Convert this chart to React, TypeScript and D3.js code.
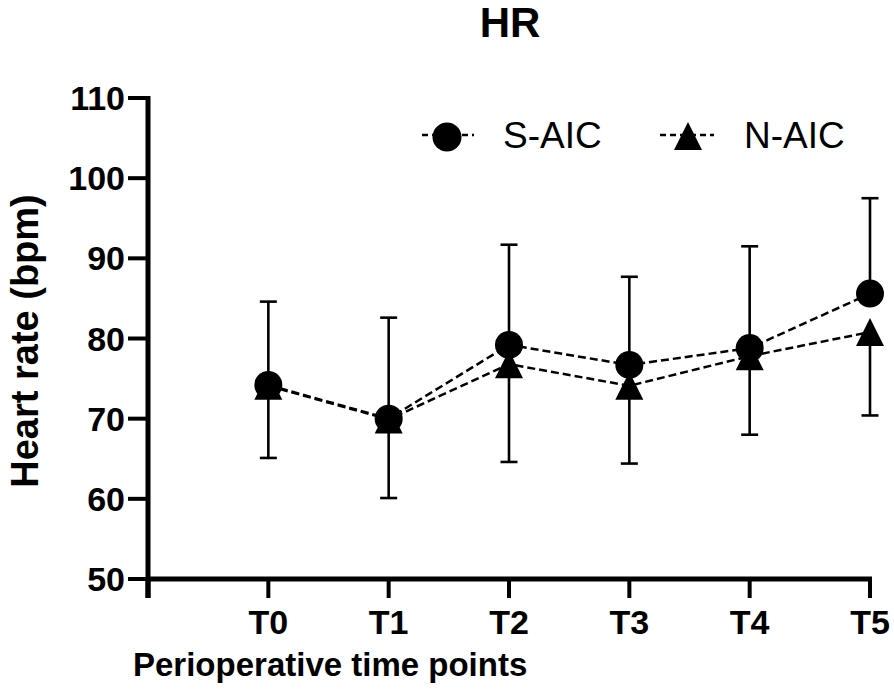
import React from "react";
import * as d3 from "d3";

const categories = ["T0", "T1", "T2", "T3", "T4", "T5"];
const sAic = [74.2, 70.0, 79.2, 76.7, 78.8, 85.6];
const sAicSD = [10.4, 12.6, 12.5, 11.0, 12.7, 11.9];
const nAic = [74.1, 69.9, 76.8, 74.1, 77.8, 80.8];
const nAicSD = [9.0, 9.8, 12.2, 9.7, 9.8, 10.4];
const yTicks = [50, 60, 70, 80, 90, 100, 110];
const seriesNames = ["S-AIC", "N-AIC"];

const W = 894;
const H = 691;

export default function App() {
  const x = d3.scaleLinear().domain([-1, categories.length - 1]).range([148, 870]);
  const y = d3.scaleLinear().domain([50, 110]).range([579, 98]);
  const line = d3
    .line<number>()
    .x((_, i) => x(i))
    .y((d) => y(d));
  const font = "'Liberation Sans', Arial, Helvetica, sans-serif";
  const xTickIdx = d3.range(-1, categories.length);
  const tri = (cx: number, cy: number, s = 14) =>
    `M${cx},${cy - s}L${cx + s},${cy + s}L${cx - s},${cy + s}Z`;

  return (
    <svg
      width={W}
      height={H}
      style={{ position: "absolute", left: 0, top: 0, background: "#fff" }}
      fontFamily={font}
    >
      <rect width={W} height={H} fill="#fff" />
      {/* title */}
      <text x={510} y={37} textAnchor="middle" fontSize={42} fontWeight="bold">
        HR
      </text>

      {/* y axis */}
      <line x1={148} x2={148} y1={y(110) - 2} y2={598} stroke="#000" strokeWidth={5} />
      {yTicks.map((t) => (
        <g key={t}>
          <line x1={128} x2={148} y1={y(t)} y2={y(t)} stroke="#000" strokeWidth={4} />
          <text
            x={125}
            y={y(t) + 12}
            textAnchor="end"
            fontSize={34}
            fontWeight="bold"
          >
            {t}
          </text>
        </g>
      ))}

      {/* x axis */}
      <line x1={146} x2={872} y1={579} y2={579} stroke="#000" strokeWidth={5} />
      {xTickIdx.map((i) => (
        <line key={i} x1={x(i)} x2={x(i)} y1={579} y2={598} stroke="#000" strokeWidth={i === -1 ? 5 : 4} />
      ))}
      {categories.map((c, i) => (
        <text key={c} x={x(i)} y={634} textAnchor="middle" fontSize={34} fontWeight="bold">
          {c}
        </text>
      ))}

      {/* axis titles */}
      <text x={133} y={676} fontSize={33} fontWeight="bold">
        Perioperative time points
      </text>
      <text
        transform={`translate(38,341) rotate(-90)`}
        textAnchor="middle"
        fontSize={38}
        fontWeight="bold"
      >
        Heart rate (bpm)
      </text>

      {/* dashed lines */}
      <path d={line(sAic) || ""} fill="none" stroke="#000" strokeWidth={2.5} strokeDasharray="8,4" />
      <path d={line(nAic) || ""} fill="none" stroke="#000" strokeWidth={2.5} strokeDasharray="8,4" />

      {/* error bars: S-AIC upward, N-AIC downward */}
      {categories.map((c, i) => (
        <g key={"eb" + c} stroke="#000" strokeWidth={2.6}>
          <line x1={x(i)} x2={x(i)} y1={y(sAic[i])} y2={y(sAic[i] + sAicSD[i])} />
          <line x1={x(i) - 8.5} x2={x(i) + 8.5} y1={y(sAic[i] + sAicSD[i])} y2={y(sAic[i] + sAicSD[i])} />
          <line x1={x(i)} x2={x(i)} y1={y(nAic[i])} y2={y(nAic[i] - nAicSD[i])} />
          <line x1={x(i) - 8.5} x2={x(i) + 8.5} y1={y(nAic[i] - nAicSD[i])} y2={y(nAic[i] - nAicSD[i])} />
        </g>
      ))}

      {/* markers */}
      {nAic.map((v, i) => (
        <path key={"t" + i} d={tri(x(i), y(v))} fill="#000" />
      ))}
      {sAic.map((v, i) => (
        <circle key={"c" + i} cx={x(i)} cy={y(v)} r={14} fill="#000" />
      ))}

      {/* legend */}
      <g>
        <line x1={422} x2={474} y1={135} y2={135} stroke="#000" strokeWidth={2.5} strokeDasharray="6,4" />
        <circle cx={447} cy={137} r={14.5} fill="#000" />
        <text x={503} y={148} fontSize={37}>
          {seriesNames[0]}
        </text>
        <line x1={660} x2={714} y1={135} y2={135} stroke="#000" strokeWidth={2.5} strokeDasharray="6,4" />
        <path d={tri(688, 136, 14)} fill="#000" />
        <text x={744} y={148} fontSize={37}>
          {seriesNames[1]}
        </text>
      </g>
    </svg>
  );
}
